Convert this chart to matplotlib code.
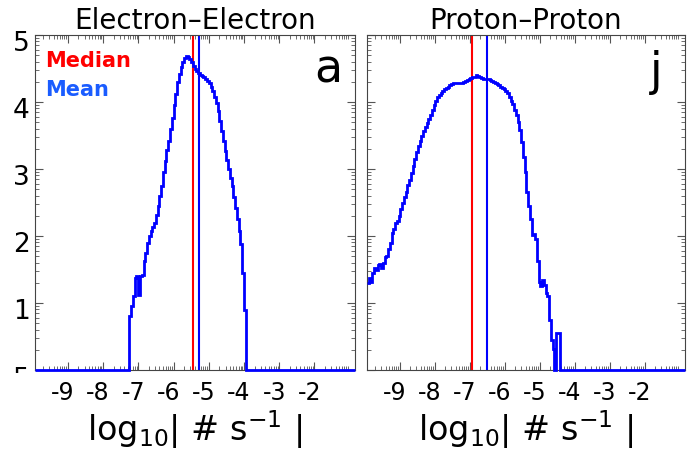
import numpy as np
import matplotlib
matplotlib.use('Agg')
import matplotlib.pyplot as plt
from matplotlib import transforms
from matplotlib.patches import Rectangle

plt.rcParams['font.family'] = ['DejaVu Sans']
plt.rcParams['mathtext.fontset'] = 'dejavusans'

# histogram heights (log10 counts), bins of 0.05 in log10 rate
bin_width = 0.05
ee_start = -7.25
ee_counts = [0.80, 0.95, 1.10, 1.38, 1.40, 1.12, 1.40, 1.42, 1.62, 1.75,
             1.90, 2.00, 2.08, 2.14, 2.20, 2.32, 2.45, 2.60, 2.75, 2.95,
             3.12, 3.28, 3.42, 3.60, 3.76, 3.95, 4.12, 4.30, 4.42, 4.52,
             4.60, 4.65, 4.68, 4.67, 4.64, 4.60, 4.54, 4.50, 4.46, 4.44,
             4.41, 4.39, 4.37, 4.35, 4.31, 4.28, 4.23, 4.16, 4.08, 3.98,
             3.87, 3.72, 3.57, 3.42, 3.27, 3.13, 3.00, 2.87, 2.74, 2.58,
             2.42, 2.25, 2.08, 1.88, 1.45, 0.90]
ee_median = -5.46
ee_mean = -5.29

pp_start = -9.93
pp_counts = [1.30, 1.38, 1.32, 1.45, 1.52, 1.50, 1.57, 1.58, 1.52, 1.60,
             1.68, 1.70, 1.80, 1.90, 2.05, 2.10, 2.20, 2.22, 2.30, 2.40,
             2.50, 2.58, 2.66, 2.76, 2.84, 2.94, 3.04, 3.15, 3.26, 3.34,
             3.42, 3.49, 3.56, 3.62, 3.69, 3.75, 3.81, 3.88, 3.96, 4.02,
             4.07, 4.11, 4.14, 4.17, 4.19, 4.21, 4.23, 4.25, 4.27, 4.28,
             4.29, 4.29, 4.28, 4.28, 4.29, 4.30, 4.32, 4.33, 4.34, 4.36,
             4.37, 4.38, 4.40, 4.39, 4.38, 4.36, 4.35, 4.35, 4.34, 4.34,
             4.33, 4.32, 4.30, 4.29, 4.27, 4.25, 4.23, 4.21, 4.19, 4.16,
             4.13, 4.08, 4.02, 3.97, 3.88, 3.80, 3.70, 3.58, 3.40, 3.18,
             2.95, 2.66, 2.45, 2.25, 2.02, 2.03, 1.96, 1.62, 1.32, 1.26,
             1.34, 1.27, 1.15, 1.10, 0.75, 0.45, 0.32, 0.00, 0.55, 0.55,
             0.00]
pp_median = -6.93
pp_mean = -6.49

xticks = [-9, -8, -7, -6, -5, -4, -3, -2]
yticks = [0, 1, 2, 3, 4, 5]
xlim = (-9.93, -0.85)

W, H = 687, 454
fig = plt.figure(figsize=(W / 100, H / 100), dpi=100)
ax1 = fig.add_axes([35 / W, (H - 370) / H, 320 / W, 335 / H])
ax2 = fig.add_axes([367 / W, (H - 370) / H, 318 / W, 335 / H])

xminor = [i + np.log10(k) for i in range(-10, -1) for k in range(2, 10)]
yminor = [i + np.log10(k) for i in range(0, 5) for k in range(2, 10)]


def panel(ax, start, counts, med, mean, title, letter, lx, ly):
    edges = start + bin_width * np.arange(len(counts) + 1)
    vals = np.asarray(counts, dtype=float)
    # empty bins out to the frame edges
    if start > xlim[0]:
        edges = np.concatenate([[xlim[0]], edges])
        vals = np.concatenate([[0], vals])
    edges = np.concatenate([edges, [xlim[1]]])
    vals = np.concatenate([vals, [0]])
    ax.axvline(med, color='#ff0000', lw=1.5)
    ax.axvline(mean, color='#0000ff', lw=1.5)
    ax.stairs(vals, edges, color='#0000ff', lw=2, baseline=None,
              clip_on=False, zorder=3)
    ax.set_xlim(*xlim)
    ax.set_ylim(0, 5)
    ax.set_xticks(xticks)
    ax.set_xticklabels([str(t) for t in xticks])
    ax.set_xticks(xminor, minor=True)
    ax.set_yticks(yticks)
    ax.set_yticklabels([str(t) for t in yticks])
    ax.set_yticks(yminor, minor=True)
    ax.tick_params(which='both', direction='in', top=True, right=True,
                   color='#555555')
    ax.tick_params(which='major', length=6, width=0.8)
    ax.tick_params(which='minor', length=3, width=0.6)
    ax.tick_params(axis='x', labelsize=17, pad=8)
    ax.tick_params(axis='y', labelsize=19, pad=4)
    for s in ax.spines.values():
        s.set_color('#444444')
        s.set_linewidth(0.8)
    ax.set_title(title, fontsize=20, pad=2)
    ax.set_xlabel(r'log$_{10}$| # s$^{-1}$ |', fontsize=24, labelpad=2)
    ax.text(lx, ly, letter, transform=ax.transAxes, ha='right',
            va='baseline', fontsize=33)
    dx = transforms.ScaledTranslation(-0.05, 0, fig.dpi_scale_trans)
    for lbl in ax.get_xticklabels():
        lbl.set_transform(lbl.get_transform() + dx)
    dy = transforms.ScaledTranslation(0, -0.06, fig.dpi_scale_trans)
    for lbl in ax.get_yticklabels():
        lbl.set_transform(lbl.get_transform() + dy)


panel(ax1, ee_start, ee_counts, ee_median, ee_mean,
      'Electron\u2013Electron', 'a', 0.96, 0.857)
panel(ax2, pp_start, pp_counts, pp_median, pp_mean,
      'Proton\u2013Proton', 'j', 0.93, 0.851)
ax2.tick_params(axis='y', labelleft=False)
# bottom label of the left axis is cut off in the original
ax1.get_yticklabels()[0].set_visible(False)

ax1.text(0.031, 0.922, 'Median', transform=ax1.transAxes, color='#ff0000',
         fontsize=15, fontweight='bold', va='center')
ax1.text(0.031, 0.836, 'Mean', transform=ax1.transAxes, color='#1a5cff',
         fontsize=15, fontweight='bold', va='center')

cut = fig.text(30 / W, 1 - 380 / H, '5', ha='right', va='center', fontsize=19)
cut.set_clip_path(Rectangle((0, 1 - 373 / H), 0.1, 0.1,
                            transform=fig.transFigure))

fig.savefig('out.png', dpi=100)
